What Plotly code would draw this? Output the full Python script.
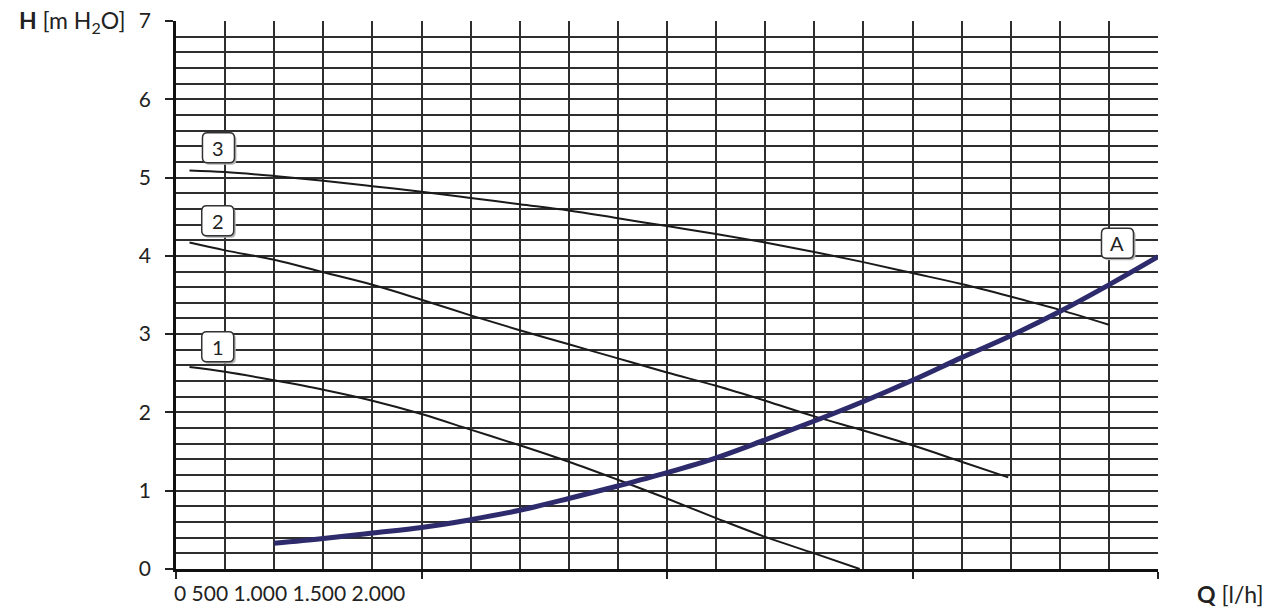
import plotly.graph_objects as go

# pump curves, Q in l/h, H in m H2O
q_1 = [55, 200, 400, 600, 800, 1000, 1200, 1400, 1600, 1800, 2000, 2200, 2400, 2600, 2785]
h_1 = [2.58, 2.52, 2.41, 2.29, 2.15, 1.98, 1.78, 1.58, 1.37, 1.14, 0.90, 0.65, 0.41, 0.20, 0.0]

q_2 = [55, 200, 400, 600, 800, 1000, 1200, 1400, 1600, 1800, 2000, 2200, 2400, 2600, 2800, 3000, 3200, 3390]
h_2 = [4.17, 4.07, 3.95, 3.79, 3.63, 3.44, 3.24, 3.05, 2.87, 2.69, 2.51, 2.34, 2.15, 1.95, 1.77, 1.58, 1.37, 1.17]

q_3 = [55, 200, 400, 600, 800, 1000, 1200, 1400, 1600, 1800, 2000, 2200, 2400, 2600, 2800, 3000, 3200, 3400, 3600, 3800]
h_3 = [5.09, 5.07, 5.02, 4.96, 4.89, 4.82, 4.74, 4.66, 4.58, 4.48, 4.38, 4.28, 4.17, 4.05, 3.92, 3.78, 3.64, 3.48, 3.31, 3.12]

# system curve A
q_a = [400, 600, 800, 1000, 1200, 1400, 1600, 1800, 2000, 2200, 2400, 2600, 2800, 3000, 3200, 3400, 3600, 3800, 4000]
h_a = [0.33, 0.39, 0.46, 0.53, 0.63, 0.75, 0.90, 1.06, 1.23, 1.42, 1.65, 1.89, 2.14, 2.41, 2.70, 2.98, 3.29, 3.63, 3.99]

curve_labels = ["1", "2", "3", "A"]
label_q = [170, 170, 173, 3835]
label_h = [2.84, 4.45, 5.38, 4.16]

x_tick_text = "0 500 1.000 1.500 2.000"

FONT = "Lato, Open Sans, sans-serif"
GRID = "#2e2e2e"

# rounded label box, pixel units around the anchor
BOX = ("M -11,-15 L 11,-15 Q 16,-15 16,-10 L 16,10 Q 16,15 11,15 L -11,15 "
       "Q -16,15 -16,10 L -16,-10 Q -16,-15 -11,-15 Z")
BOX_SHADOW = ("M -9,-17 L 13,-17 Q 18,-17 18,-12 L 18,8 Q 18,13 13,13 L -9,13 "
              "Q -14,13 -14,8 L -14,-12 Q -14,-17 -9,-17 Z")

fig = go.Figure()
for q, h in [(q_1, h_1), (q_2, h_2), (q_3, h_3)]:
    fig.add_trace(go.Scatter(x=q, y=h, mode="lines", line=dict(color="#1a1a1a", width=2, shape="spline"),
                             showlegend=False, hoverinfo="skip"))
fig.add_trace(go.Scatter(x=q_a, y=h_a, mode="lines", line=dict(color="#2d2b6b", width=5, shape="spline"),
                         showlegend=False, hoverinfo="skip"))

for txt, q, h in zip(curve_labels, label_q, label_h):
    fig.add_shape(type="path", path=BOX_SHADOW, xsizemode="pixel", ysizemode="pixel",
                  xanchor=q, yanchor=h, xref="x", yref="y", layer="above",
                  fillcolor="#b5b5b5", line=dict(width=0))
    fig.add_shape(type="path", path=BOX, xsizemode="pixel", ysizemode="pixel",
                  xanchor=q, yanchor=h, xref="x", yref="y", layer="above",
                  fillcolor="white", line=dict(color="#333", width=1.5))
    fig.add_annotation(x=q, y=h, text=txt, showarrow=False,
                       font=dict(family=FONT, size=20, color="#222"))

fig.add_annotation(x=0, y=0, xref="paper", yref="paper", xanchor="left", yanchor="top",
                   text=x_tick_text, showarrow=False, xshift=-4, yshift=-9,
                   font=dict(family=FONT, size=21, color="#222"))
fig.add_annotation(x=0, y=1, xref="paper", yref="paper", xanchor="right", yanchor="middle",
                   text="<b>H</b> [m H<sub>2</sub>O]", showarrow=False, xshift=-48,
                   font=dict(family=FONT, size=23, color="#222"))
fig.add_annotation(x=1, y=0, xref="paper", yref="paper", xanchor="left", yanchor="top",
                   text="<b>Q</b> [l/h]", showarrow=False, xshift=37, yshift=-9,
                   font=dict(family=FONT, size=23, color="#222"))

fig.update_xaxes(range=[0, 4000], tick0=0, dtick=1000, ticks="outside", ticklen=7, tickwidth=1.5,
                 tickcolor="#222", showticklabels=False, showgrid=True, gridcolor=GRID, gridwidth=1.5,
                 minor=dict(dtick=200, showgrid=True, gridcolor=GRID, gridwidth=1.5),
                 showline=True, linecolor="#111", linewidth=2.5, zeroline=False, automargin=False)
fig.update_yaxes(range=[0, 7], tick0=0, dtick=1, ticks="outside", ticklen=8, tickwidth=1.5,
                 tickcolor="#222", tickfont=dict(family=FONT, size=21, color="#222"),
                 ticklabelstandoff=10,
                 showgrid=True, gridcolor=GRID, gridwidth=1.5,
                 minor=dict(dtick=0.2, showgrid=True, gridcolor=GRID, gridwidth=1.5),
                 showline=True, linecolor="#111", linewidth=2.5, zeroline=False, automargin=False)

fig.update_layout(width=1273, height=609, margin=dict(l=176, r=115, t=21, b=40, autoexpand=False),
                  plot_bgcolor="white", paper_bgcolor="white")

# drop the default page margin so the figure sits at the window corner
fig.write_html("out.html", config={"displayModeBar": False},
               post_script="document.body.style.margin='0';")
